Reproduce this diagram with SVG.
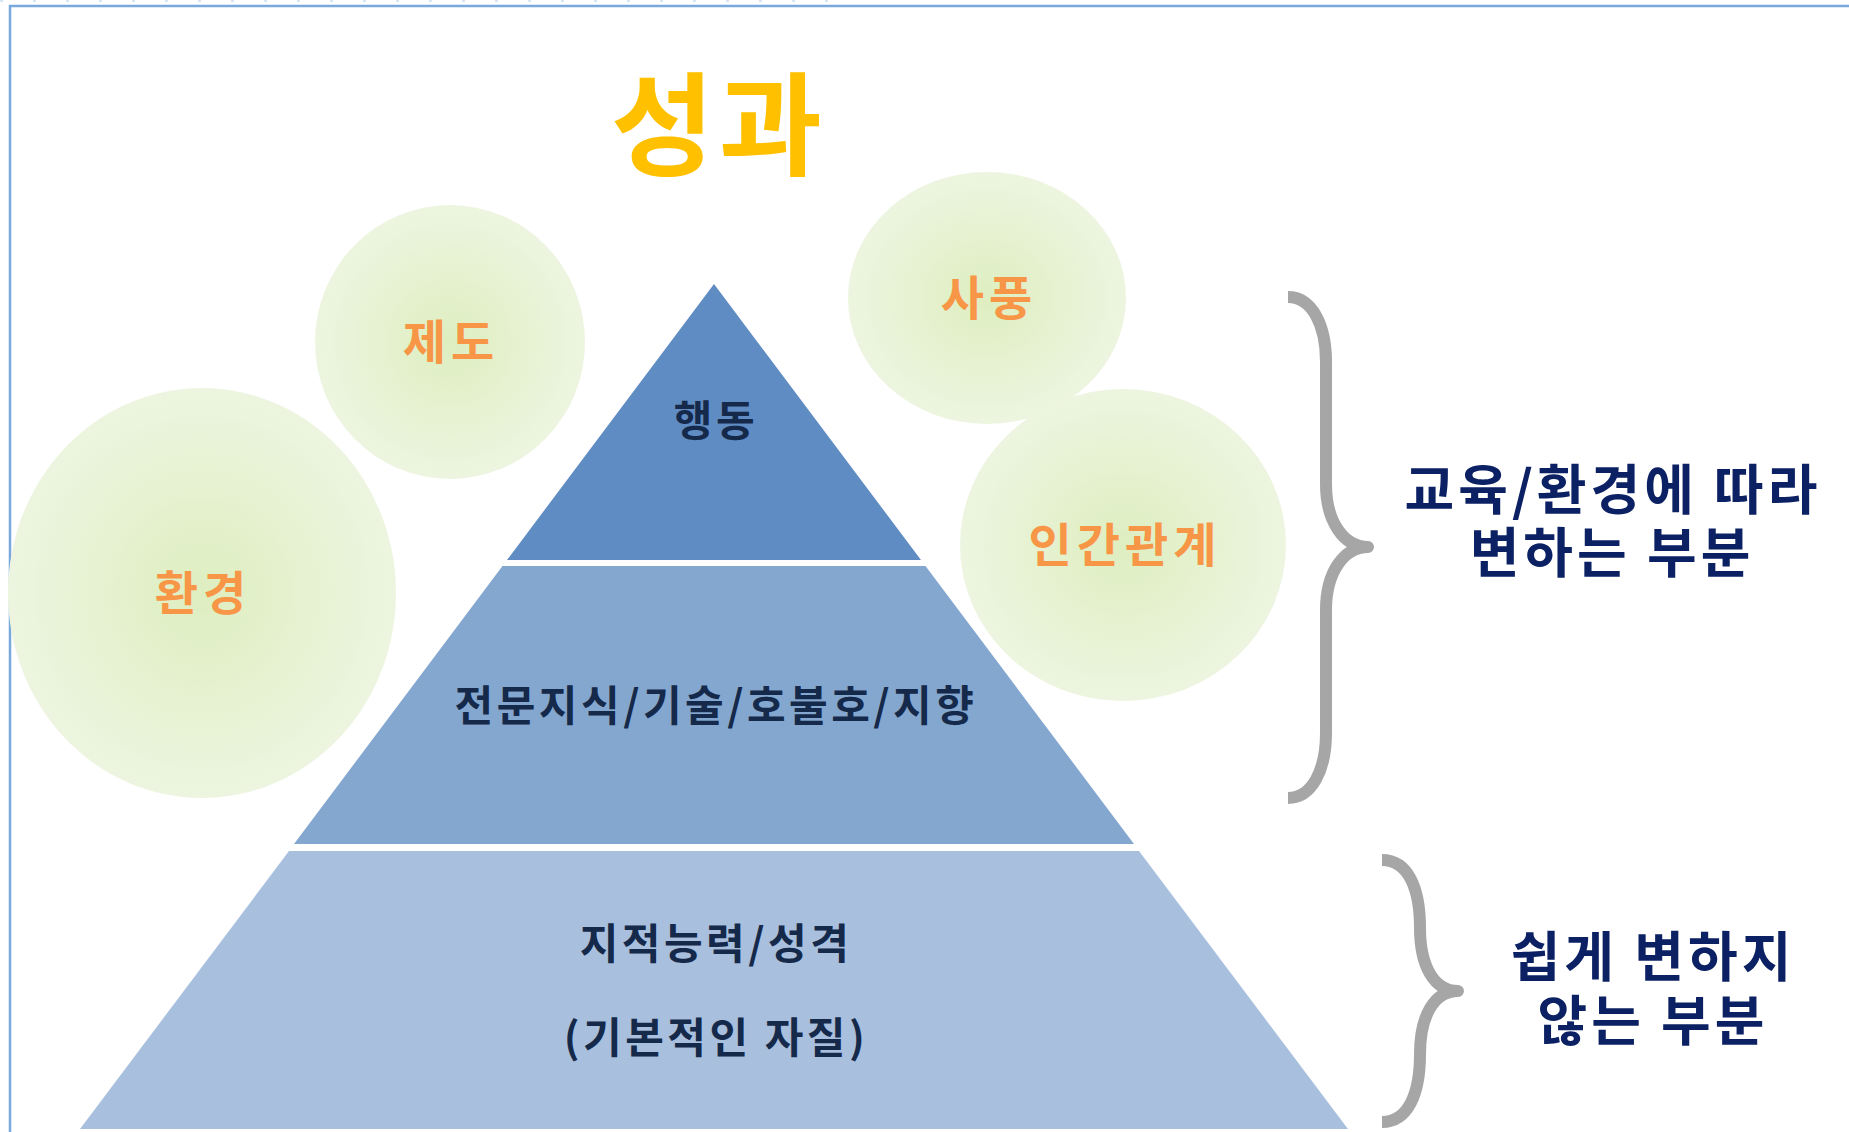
<svg xmlns="http://www.w3.org/2000/svg" width="1849" height="1132" viewBox="0 0 1849 1132">
<defs>
<radialGradient id="glow" cx="50%" cy="50%" r="50%">
<stop offset="0%" stop-color="#deeec0"/>
<stop offset="100%" stop-color="#edf5e0"/>
</radialGradient>
</defs>
<style>
text{font-family:"Noto Sans CJK KR","Noto Sans",sans-serif;font-weight:bold;text-anchor:middle}
.bubble{fill:url(#glow)}
.btxt{fill:#f79646;font-size:47px;letter-spacing:5px}
.ptxt{fill:#15294a;font-size:42px;letter-spacing:3.5px}
.rtxt{fill:#0b2163;font-size:54px;letter-spacing:4px}
.brace{fill:none;stroke:#a6a6a6;stroke-width:12;stroke-linejoin:round}
</style>
<rect width="1849" height="1132" fill="#ffffff"/>
<line x1="0" y1="1" x2="830" y2="1" stroke="#c9dcf0" stroke-width="1.5" stroke-dasharray="3 30"/>
<path d="M10,1132 V6 H1849" fill="none" stroke="#79a9dc" stroke-width="2.5"/>
<g id="title"><text x="719" y="167" style="fill:#ffc000;font-size:112px;letter-spacing:5px">성과</text></g>
<g id="n-hwangyeong"><ellipse class="bubble" cx="202" cy="593" rx="194" ry="205"/><text class="btxt" x="203" y="610">환경</text></g>
<g id="n-jedo"><ellipse class="bubble" cx="450" cy="342" rx="135" ry="137"/><text class="btxt" x="451" y="359">제도</text></g>
<g id="n-sapung"><ellipse class="bubble" cx="987" cy="298" rx="139" ry="126"/><text class="btxt" x="989" y="315">사풍</text></g>
<g id="n-ingan"><ellipse class="bubble" cx="1123" cy="545" rx="163" ry="156"/><text class="btxt" x="1125" y="562">인간관계</text></g>
<g id="n-haengdong"><polygon points="714,284 921,560 507,560" fill="#608cc4"/><text class="ptxt" x="716" y="436">행동</text></g>
<g id="n-jeonmun"><polygon points="502.5,566 925.5,566 1134,844 294,844" fill="#84a7cf"/><text class="ptxt" x="716" y="721">전문지식/기술/호불호/지향</text></g>
<g id="n-jijeok"><polygon points="289,851 1139,851 1348,1129 80,1129" fill="#a8c0de"/><text class="ptxt" x="716" y="959">지적능력/성격</text><text class="ptxt" x="716" y="1053">(기본적인 자질)</text></g>
<g id="connectors">
<path class="brace" d="M1288,297 C1312,297 1326,325 1326,362 L1326,484 C1326,522 1344,547 1368,547 C1344,547 1326,572 1326,610 L1326,733 C1326,770 1312,798 1288,798"/>
<path class="brace" d="M1382,860 C1408,860 1420,888 1420,928 C1420,966 1434,991 1458,991 C1434,991 1420,1016 1420,1054 C1420,1094 1408,1122 1382,1122"/>
</g>
<g id="n-change"><text class="rtxt" x="1613" y="510">교육/환경에 따라</text><text class="rtxt" x="1612" y="573">변하는 부분</text></g>
<g id="n-stable"><text class="rtxt" x="1653" y="977">쉽게 변하지</text><text class="rtxt" x="1653" y="1041">않는 부분</text></g>
</svg>
